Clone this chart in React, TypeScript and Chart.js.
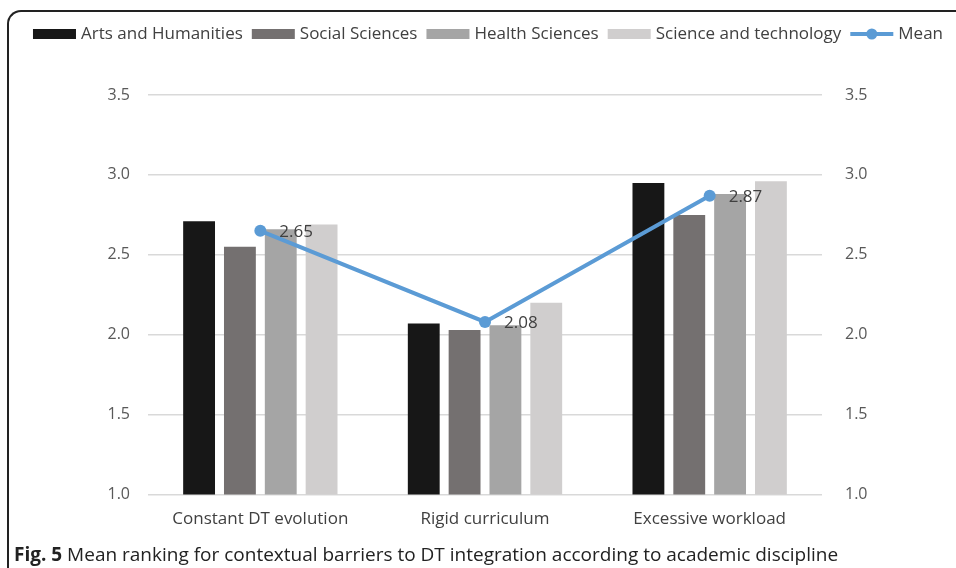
import React, { useEffect, useRef } from "react";
import { Chart, registerables } from "chart.js";

Chart.register(...registerables);

const categories = ["Constant DT evolution", "Rigid curriculum", "Excessive workload"];
const seriesNames = ["Arts and Humanities", "Social Sciences", "Health Sciences", "Science and technology"];
const artsHumanities = [2.71, 2.07, 2.95];
const socialSciences = [2.55, 2.03, 2.75];
const healthSciences = [2.66, 2.06, 2.88];
const scienceTechnology = [2.69, 2.2, 2.96];
const meanName = "Mean";
const meanValues = [2.65, 2.08, 2.87];
const yMin = 1.0;
const yMax = 3.5;
const yStep = 0.5;

const barColors = ["#171717", "#747070", "#a5a5a5", "#d0cece"];
const lineColor = "#5b9bd5";
const FONT = "'Open Sans', sans-serif";

const legendPlugin = {
  id: "customLegend",
  afterDraw(chart: any) {
    const ctx = chart.ctx;
    ctx.save();
    ctx.font = `17px ${FONT}`;
    ctx.textBaseline = "middle";
    const y = 34;
    const boxW = 43;
    const gap = 5;
    const spacing = 9;
    const items = chart.data.datasets.map((d: any) => ({
      label: d.label,
      type: d.type || "bar",
      color: d.type === "line" ? d.borderColor : d.backgroundColor,
      w: boxW + gap + ctx.measureText(d.label).width,
    }));
    const total = items.reduce((s: number, it: any) => s + it.w, 0) + spacing * (items.length - 1);
    let x = 488 - total / 2;
    items.forEach((it: any) => {
      if (it.type === "line") {
        ctx.strokeStyle = it.color;
        ctx.lineWidth = 4;
        ctx.beginPath();
        ctx.moveTo(x, y);
        ctx.lineTo(x + boxW, y);
        ctx.stroke();
        ctx.fillStyle = it.color;
        ctx.beginPath();
        ctx.arc(x + boxW / 2, y, 5.5, 0, Math.PI * 2);
        ctx.fill();
      } else {
        ctx.fillStyle = it.color;
        ctx.fillRect(x, y - 5, boxW, 10);
      }
      ctx.fillStyle = "#404040";
      ctx.textAlign = "left";
      ctx.fillText(it.label, x + boxW + gap, y);
      x += it.w + spacing;
    });
    ctx.restore();
  },
};

const dataLabelPlugin = {
  id: "meanLabels",
  afterDatasetsDraw(chart: any) {
    const ctx = chart.ctx;
    chart.data.datasets.forEach((d: any, i: number) => {
      if (d.type !== "line") return;
      const meta = chart.getDatasetMeta(i);
      ctx.save();
      ctx.font = `17px ${FONT}`;
      ctx.fillStyle = "#404040";
      ctx.textBaseline = "middle";
      ctx.textAlign = "left";
      meta.data.forEach((pt: any, j: number) => {
        ctx.fillText(d.data[j].toFixed(2), pt.x + 19, pt.y + 1);
      });
      ctx.restore();
    });
  },
};

export default function App() {
  const ref = useRef<HTMLCanvasElement | null>(null);
  useEffect(() => {
    if (!ref.current) return;
    const seriesValues = [artsHumanities, socialSciences, healthSciences, scienceTechnology];
    const chart = new Chart(ref.current, {
      type: "bar",
      data: {
        labels: categories,
        datasets: [
          ...seriesNames.map((name, i) => ({
            type: "bar" as const,
            label: name,
            data: seriesValues[i],
            backgroundColor: barColors[i],
            categoryPercentage: 0.727,
            barPercentage: 0.78,
            order: 1,
            yAxisID: "y",
          })),
          {
            type: "line" as const,
            label: meanName,
            data: meanValues,
            borderColor: lineColor,
            backgroundColor: lineColor,
            borderWidth: 4,
            pointRadius: 6,
            pointBackgroundColor: lineColor,
            pointBorderWidth: 0,
            order: 0,
            yAxisID: "y",
          },
        ],
      } as any,
      options: {
        animation: false,
        responsive: false,
        maintainAspectRatio: false,
        layout: { padding: { top: 95, bottom: 13, left: 0, right: 0 } },
        plugins: {
          legend: { display: false },
          tooltip: { enabled: false },
        },
        scales: {
          x: {
            grid: { display: false, drawTicks: false },
            border: { display: false },
            ticks: { color: "#404040", font: { family: FONT, size: 17 }, padding: 14 },
          },
          y: {
            position: "left",
            min: yMin,
            max: yMax,
            afterFit: (s: any) => { s.width = 148; },
            grid: { color: "#d9d9d9", lineWidth: 1.5, drawTicks: false },
            border: { display: false },
            ticks: {
              stepSize: yStep,
              padding: 18,
              color: "#595959",
              font: { family: FONT, size: 16 },
              callback: (v: any) => Number(v).toFixed(1),
            },
          },
          y2: {
            position: "right",
            min: yMin,
            max: yMax,
            afterFit: (s: any) => { s.width = 134; },
            grid: { display: false, drawTicks: false },
            border: { display: false },
            ticks: {
              stepSize: yStep,
              padding: 23,
              color: "#595959",
              font: { family: FONT, size: 16 },
              callback: (v: any) => Number(v).toFixed(1),
            },
          },
        },
      } as any,
      plugins: [legendPlugin, dataLabelPlugin],
    });
    return () => chart.destroy();
  }, []);

  return (
    <div style={{ position: "absolute", left: 0, top: 0, width: 956, height: 568, overflow: "hidden", background: "#fff" }}>
      <div
        style={{
          position: "absolute",
          left: 7,
          top: 10,
          width: 1000,
          height: 600,
          borderTop: "2px solid #222",
          borderLeft: "2px solid #222",
          borderTopLeftRadius: 14,
        }}
      />
      <canvas ref={ref} width={956} height={556} style={{ position: "absolute", left: 0, top: 0, width: 956, height: 556 }} />
      <div
        style={{
          position: "absolute",
          left: 14,
          top: 542,
          fontFamily: FONT,
          fontSize: 19,
          lineHeight: "24px",
          color: "#222",
          whiteSpace: "nowrap",
        }}
      >
        <b>Fig. 5</b> Mean ranking for contextual barriers to DT integration according to academic discipline
      </div>
    </div>
  );
}
